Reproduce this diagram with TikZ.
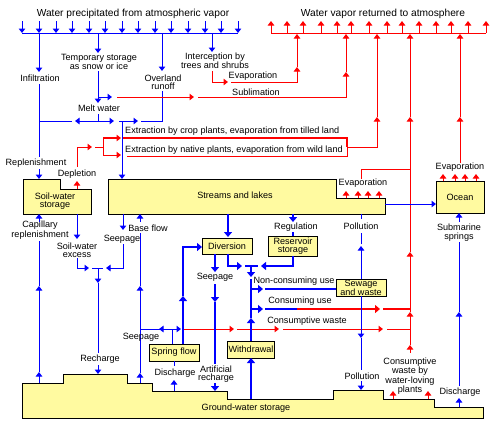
\documentclass[tikz,border=0pt]{standalone}
\usepackage{fontspec}
\setmainfont{Liberation Sans}
\usetikzlibrary{arrows.meta}
\definecolor{boxy}{RGB}{255,250,160}
\definecolor{bblue}{RGB}{0,0,255}
\definecolor{rred}{RGB}{255,0,0}
\begin{document}
\begin{tikzpicture}[x=1pt,y=-1pt,
  lbl/.style={font=\fontsize{9.1}{8.4}\selectfont, inner sep=0pt, align=center},
  ttl/.style={font=\fontsize{10.2}{10}\selectfont, inner sep=0pt},
  bl/.style={draw=bblue, line width=1pt},
  blt/.style={draw=bblue, line width=2.6pt},
  rd/.style={draw=rred, line width=1pt},
  rdt/.style={draw=rred, line width=2.4pt},
  tip/.style={-{Triangle[width=6.5pt,length=4.5pt]}},
  tipt/.style={-{Triangle[width=8pt,length=5pt]}},
  box/.style={draw=black, line width=1pt, fill=boxy},
  boxtxt/.style={font=\fontsize{9.1}{8.4}\selectfont, inner sep=0pt, align=center},
  ]
\useasboundingbox (0,0) rectangle (500,442);
\fill[white] (0,0) rectangle (500,442);

% ---------- titles ----------
\node[ttl] (tprec) at (133,14) {Water precipitated from atmospheric vapor};
\node[ttl] (tvap) at (383,14) {Water vapor returned to atmosphere};

\foreach \x in {22,39,56,72,89,105,122,138,155,171,188,205,221,238}
  \draw[bl,tip] (\x,21)--(\x,33);
\draw[bl] (22,33)--(238,33);
\foreach \x in {271,287,303,321,337,351,369,387,402,419,436,451,468,486}
  \draw[rd,tip] (\x,33)--(\x,21);
\draw[rd] (271,33)--(486,33);

% ---------- upper labels ----------
\node[lbl] (ltemp) at (99,62) {Temporary storage\\as snow or ice};
\node[lbl] (lover) at (163,82) {Overland\\runoff};
\node[lbl] (linter) at (215,60.5) {Interception by\\trees and shrubs};
\node[lbl] (linf) at (40,78) {Infiltration};
\node[lbl] (lrepl) at (36,163) {Replenishment};
\node[lbl] (lmelt) at (99,108) {Melt water};
\node[lbl] (levap1) at (253,76) {Evaporation};
\node[lbl] (lsub) at (256,92) {Sublimation};
\node[lbl,anchor=west] (lext1) at (125,131) {Extraction by crop plants, evaporation from tilled land};
\node[lbl,anchor=west] (lext2) at (125,150) {Extraction by native plants, evaporation from wild land};
\node[lbl] (ldepl) at (77,174) {Depletion};

% blue branches from precipitation
\draw[bl,tip] (98,33)--(98,53);
\draw[bl,tip] (162,33)--(162,71);
\draw[bl,tip] (212,33)--(212,52);
\draw[bl,tip] (39,33)--(39,72);
\draw[bl] (39,84)--(39,157);
\draw[bl,tip] (39,169)--(39,179);

% melt water
\draw[bl,tip] (98,71)--(98,103);
\draw[bl,tip] (98,97)--(112,97);
\draw[bl] (98,114)--(98,121);
\draw[bl,tip] (98,121)--(75,121);
\draw[bl] (72,121)--(39,121);
\draw[bl,tip] (98,121)--(114,121);
\draw[bl,tip] (122,121)--(122,179);
\draw[bl,tip] (119,121)--(138,121);
\draw[bl] (141,121)--(162,121)--(162,91);

% sublimation
\draw[rd,tip] (117,97)--(194,97);
\draw[rd,tip] (198,97)--(346,97)--(346,72);
\draw[rd,tip] (346,72)--(346,34);

% interception evaporation
\draw[rd,tip] (212,71)--(212,82)--(228,82);
\draw[rd,tip] (231,82)--(297,82)--(297,67);
\draw[rd,tip] (297,67)--(297,34);

% extraction
\draw[rd,line width=2pt] (123,138)--(347,138)--(347,147);
\draw[rd] (127,156)--(347,156)--(347,146);
\draw[rd,tip] (347,147)--(377,147)--(377,117);
\draw[rd,tip] (377,117)--(377,34);
\draw[rd,tip] (77,167)--(77,147)--(92,147);
\draw[rd] (95,147)--(103,147);
\draw[rd] (103,138)--(103,155);
\draw[rd,line width=2pt,tip] (103,138)--(121,138);
\draw[rd,tip] (103,155)--(121,155);
\draw[rd,tip] (77,189)--(77,181);

% right red risers
\draw[rd,tip] (410,353)--(410,345);
\draw[rd,tip] (410,345)--(410,312);
\draw[rd,tip] (410,312)--(410,252);
\draw[rd,tip] (410,252)--(410,117);
\draw[rd,tip] (410,117)--(410,34);
\draw[rd,tip] (460,163)--(460,117);
\draw[rd,tip] (460,117)--(460,34);
\draw[rd] (361,179)--(361,169)--(410,169);

% ---------- boxes ----------
\draw[box] (23,179)--(60,179)--(60,189)--(91,189)--(91,214)--(23,214)--cycle;
\node[boxtxt] (soil) at (55,201) {Soil-water\\storage};
\draw[box] (108,179)--(336,179)--(336,198)--(385,198)--(385,214)--(108,214)--cycle;
\node[boxtxt] (streams) at (235,195) {Streams and lakes};
\draw[box] (436,181) rectangle (484,213);
\node[boxtxt] (ocean) at (460,197) {Ocean};
\draw[box] (202,238) rectangle (252,254);
\node[boxtxt] (div) at (227,246) {Diversion};
\draw[box] (268,236) rectangle (317,256);
\node[boxtxt] (res) at (293,246) {Reservoir\\storage};
\draw[box] (336,279) rectangle (386,296);
\node[boxtxt] (sew) at (361,288) {Sewage\\and waste};
\draw[box] (149,344) rectangle (199,361);
\node[boxtxt] (spring) at (174,352.5) {Spring flow};
\draw[box] (227,341) rectangle (274,358);
\node[boxtxt] (withd) at (251,349.5) {Withdrawal};
\draw[box] (22,383)--(63,383)--(63,374)--(127,374)--(127,383)--(152,383)--(152,391)--(227,391)--(227,399)--(333,399)--(333,390)--(383,390)--(383,399)--(434,399)--(434,407)--(483,407)--(483,418)--(22,418)--cycle;
\node[boxtxt] (gw) at (246,408) {Ground-water storage};

% evaporation arrows
\node[lbl] (levap2) at (363,183) {Evaporation};
\foreach \x in {346,358,368,379} \draw[rd,tip] (\x,198)--(\x,191);
\node[lbl] (levap3) at (460,167) {Evaporation};
\foreach \x in {443,455,465,476} \draw[rd,tip] (\x,181)--(\x,174);

% streams -> ocean
\draw[bl,tip] (385,204)--(436,204);

% submarine springs / discharge
\node[lbl] (lsubm) at (459,232.5) {Submarine\\springs};
\draw[bl,tip] (459,222)--(459,213);
\node[lbl] (ldis2) at (460,392) {Discharge};
\draw[bl,tip] (459,407)--(459,398);
\draw[bl,tip] (459,386)--(459,312);
\draw[bl] (459,312)--(459,242);

% soil-water bottom
\node[lbl] (lcap) at (40,230) {Capillary\\replenishment};
\draw[bl,tip] (39,222)--(39,214);
\draw[bl] (39,241)--(39,286);
\draw[bl,tip] (39,372)--(39,286);
\draw[bl,tip] (39,383)--(39,372);
\node[lbl] (lexc) at (77,250) {Soil-water\\excess};
\draw[bl,tip] (77,214)--(77,239);
\draw[bl,tip] (77,258)--(77,268)--(89,268);
\draw[bl] (92,268)--(103,268);
\node[lbl] (lseep1) at (122,239) {Seepage};
\draw[bl,tip] (123,214)--(123,230);
\draw[bl,tip] (123,244)--(123,268)--(106,268);
\draw[bl,tip] (98,268)--(98,283);
\draw[bl] (98,283)--(98,353);
\node[lbl] (lrech) at (100,359) {Recharge};
\draw[bl,tip] (98,365)--(98,374);

% base flow
\node[lbl] (lbase) at (148,228) {Base flow};
\draw[bl,tip] (140,222)--(140,214);
\draw[bl] (140,286)--(140,233);
\draw[bl,tip] (140,373)--(140,286);
\draw[bl,tip] (140,383)--(140,373);

% seepage near spring flow
\node[lbl] (lseep3) at (141,337) {Seepage};
\draw[bl,tip] (172,329)--(159,329);
\draw[bl] (160,329)--(140,329);
\draw[bl,tip] (172,329)--(181,329);
\draw[bl] (172,329)--(172,344);
\draw[rd,tip] (183,329)--(234,329);
\draw[rd,tip] (237,329)--(279,329);
\draw[rd,tip] (283,329)--(383,329);
\draw[rd] (387,329)--(410,329);
\node[lbl] (lcw) at (307,321) {Consumptive waste};

% discharge to spring flow
\node[lbl] (ldis1) at (175,373) {Discharge};
\draw[bl] (174,361)--(174,366);
\draw[bl,tip] (174,391)--(174,380);

% spring flow -> diversion
\draw[blt,tipt] (183,344)--(183,296);
\draw[blt,tipt] (183,296)--(183,247)--(202,247);

% streams -> diversion
\draw[blt,tipt] (228,214)--(228,237);

% diversion seepage / artificial recharge
\node[lbl] (lseep2) at (215,277) {Seepage};
\draw[blt,tipt] (215,254)--(215,272);
\draw[blt,tipt] (215,284)--(215,302);
\draw[blt] (215,302)--(215,364);
\node[lbl] (lart) at (216,374) {Artificial\\recharge};
\draw[blt,tipt] (215,383)--(215,391);

% diversion & reservoir -> uses
\draw[blt,tipt] (228,254)--(228,266)--(242,266);
\draw[blt] (245,266)--(258,266);
\node[lbl] (lreg) at (296,227) {Regulation};
\draw[blt,tipt] (293,214)--(293,222);
\draw[blt] (293,232)--(293,236);
\draw[blt,tipt] (293,256)--(293,266)--(261,266);
\draw[blt,tipt] (251,266)--(251,277);
\draw[blt] (251,279)--(251,318);
\draw[blt,tipt] (251,341)--(251,318);
\draw[blt,tipt] (251,399)--(251,358);
\draw[blt,tipt] (251,289)--(263,289);
\draw[blt,tipt] (251,309)--(263,309);
\node[lbl] (lnon) at (294,281) {Non-consuming use};
\draw[blt] (265,289)--(336,289);
\node[lbl] (lcons) at (300,301) {Consuming use};
\draw[blt] (265,309)--(297,309);
\draw[rdt,tipt] (297,309)--(380,309);
\draw[rdt] (383,309)--(411,309);

% pollution
\node[lbl] (lpol1) at (361,226) {Pollution};
\draw[bl] (361,214)--(361,219);
\draw[bl] (361,244)--(361,233);
\draw[bl,tip] (361,279)--(361,246);
\draw[bl,tip] (361,296)--(361,338);
\draw[bl] (361,338)--(361,370);
\node[lbl] (lpol2) at (362,376) {Pollution};
\draw[bl,tip] (361,381)--(361,390);

% water-loving plants
\node[lbl] (lwl) at (410,376) {Consumptive\\waste by\\water-loving\\plants};
\draw[rd,tip] (393,399)--(393,391);
\draw[rd,tip] (428,399)--(428,391);
\end{tikzpicture}
\end{document}
